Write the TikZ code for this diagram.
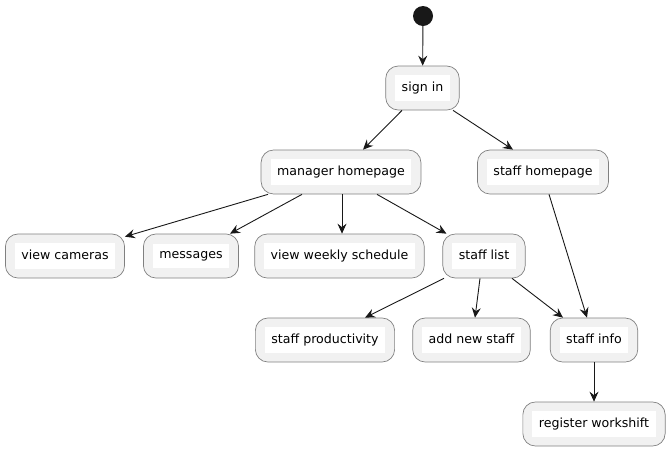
\documentclass[tikz,border=0pt]{standalone}
\usepackage{fontspec}
\setmainfont{DejaVu Sans}
\usetikzlibrary{arrows.meta}
\definecolor{boxfill}{HTML}{F1F1F1}
\definecolor{boxline}{HTML}{808080}
\definecolor{arrline}{HTML}{181818}
\newcommand\wb[1]{{\setlength\fboxsep{6.5pt}\colorbox{white}{\rule[-3.3pt]{0pt}{11pt}#1}}}
\tikzset{
  act/.style={rounded corners=12.5pt, fill=boxfill, draw=boxline, line width=0.7pt,
    inner xsep=9.5pt, inner ysep=0pt, minimum height=44pt,
    font=\fontsize{12.6pt}{14pt}\selectfont},
  startnode/.style={circle, fill=arrline, minimum size=20pt, inner sep=0pt},
  arr/.style={draw=arrline, line width=0.9pt, -{Stealth[length=10pt,width=9pt,inset=3.5pt]}}
}
\begin{document}
\begin{tikzpicture}[x=1pt,y=-1pt]
\useasboundingbox (0,0) rectangle (669,451);
\node[startnode] (st) at (423,16) {};
\node[act] (si) at (422.5,88) {\wb{sign in}};
\node[act] (mh) at (341,172) {\wb{manager homepage}};
\node[act] (sh) at (543,172) {\wb{staff homepage}};
\node[act] (vc) at (65,256) {\wb{view cameras}};
\node[act] (ms) at (191,256) {\wb{messages}};
\node[act] (vw) at (339.5,256) {\wb{view weekly schedule}};
\node[act] (sl) at (484,256) {\wb{staff list}};
\node[act] (sp) at (325,340) {\wb{staff productivity}};
\node[act] (an) at (471.5,340) {\wb{add new staff}};
\node[act] (sf) at (594,340) {\wb{staff info}};
\node[act] (rw) at (594,424) {\wb{register workshift}};

\draw[arr] (st) -- (si);
\draw[arr] ([xshift=-20.5pt]si.south) -- ([xshift=22pt]mh.north);
\draw[arr] ([xshift=30.5pt]si.south) -- ([xshift=-30pt]sh.north);
\draw[arr] ([xshift=-73pt]mh.south) -- ([yshift=-3pt]vc.north east);
\draw[arr] ([xshift=-39pt]mh.south) -- ([xshift=39pt]ms.north);
\draw[arr] ([xshift=1pt]mh.south) -- ([xshift=2.5pt]vw.north);
\draw[arr] ([xshift=36pt]mh.south) -- ([xshift=4pt]sl.north west);
\draw[arr] ([xshift=6pt]sh.south) -- ([xshift=-7pt]sf.north);
\draw[arr] ([xshift=-40pt]sl.south) -- ([xshift=40pt]sp.north);
\draw[arr] ([xshift=-4pt]sl.south) -- ([xshift=3.5pt]an.north);
\draw[arr] ([xshift=28pt]sl.south) -- ([xshift=-31pt]sf.north);
\draw[arr] (sf) -- (rw);
\end{tikzpicture}
\end{document}
